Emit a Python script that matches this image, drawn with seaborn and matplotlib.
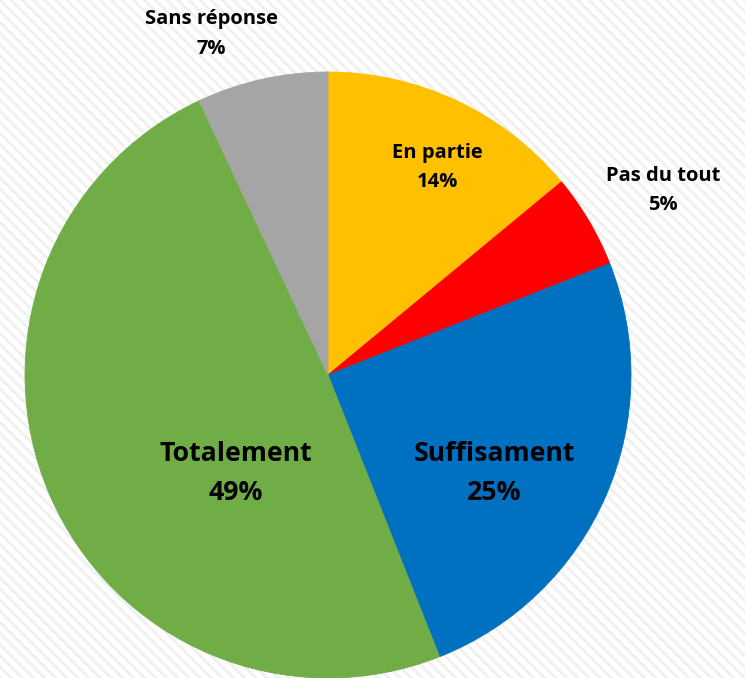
import matplotlib
matplotlib.use("Agg")
import matplotlib.pyplot as plt
import seaborn as sns
from matplotlib.patches import Rectangle

# data, clockwise from 12 o'clock
categories = ["En partie", "Pas du tout", "Suffisament", "Totalement", "Sans réponse"]
shares = [14, 5, 25, 49, 7]
colors = ["#FFC000", "#FF0000", "#0070C0", "#70AD47", "#A5A5A5"]

# label placement (data coords, pie radius = 1) and size
label_pos = [(0.36, 0.685), (1.105, 0.61), (0.55, -0.325), (-0.305, -0.325), (-0.385, 1.125)]
label_size = [14.5, 14.5, 19.2, 19.2, 14.5]

sns.set_theme(style="white")
plt.rcParams["font.family"] = ["Open Sans", "DejaVu Sans"]
plt.rcParams["hatch.color"] = "#f0f0f0"
plt.rcParams["hatch.linewidth"] = 2.0

fig = plt.figure(figsize=(7.45, 6.78), dpi=100)
fig.patches.append(Rectangle((0, 0), 1, 1, transform=fig.transFigure,
                             facecolor="white", edgecolor="#f0f0f0",
                             hatch="\\\\\\", linewidth=0, zorder=-10))

ax = fig.add_axes([0, 0, 1, 1])
ax.set_facecolor("none")

wedges, _ = ax.pie(shares, colors=colors, startangle=90, counterclock=False, radius=1)
for w in wedges:
    w.set_edgecolor(w.get_facecolor())
    w.set_linewidth(0.6)

for name, val, (x, y), fs in zip(categories, shares, label_pos, label_size):
    ax.text(x, y, f"{name}\n{val}%", ha="center", va="center",
            fontsize=fs, fontweight="bold", color="black", linespacing=1.62)

# pie center at (328, 375) px, radius 303 px
r = 303
ax.set_xlim(-328 / r, (745 - 328) / r)
ax.set_ylim(-(678 - 375) / r, 375 / r)
ax.set_aspect("auto")
ax.axis("off")

fig.savefig("out.png", dpi=100)
